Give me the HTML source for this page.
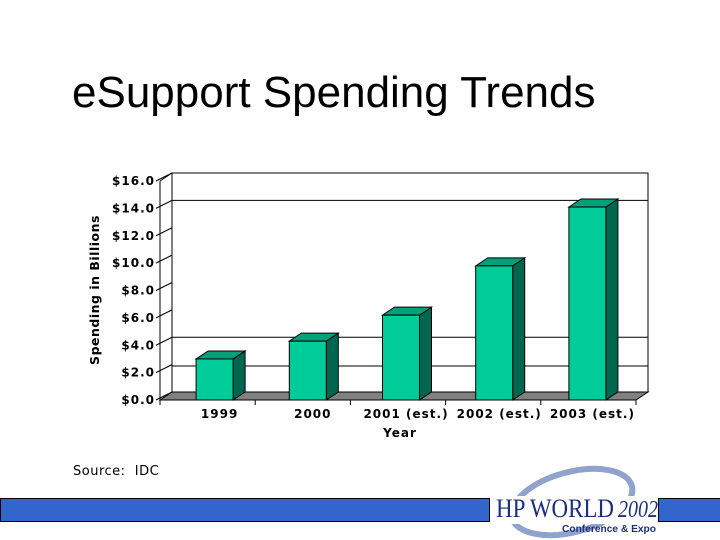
<!DOCTYPE html>
<html><head><meta charset="utf-8"><style>
body{margin:0;background:#fff;}
#wrap{position:relative;width:720px;height:540px;overflow:hidden;background:#fff;font-family:"Liberation Sans",sans-serif;}
</style></head><body>
<div id="wrap">
<div style="position:absolute;left:72px;top:68px;font-size:44px;color:#000;">eSupport Spending Trends</div>
<svg id="chart" width="720" height="460" style="position:absolute;left:0;top:0;"></svg>
<div style="position:absolute;left:73px;top:464px;font-size:13px;letter-spacing:0.5px;font-family:'DejaVu Sans',sans-serif;">Source:&nbsp; IDC</div>
<div style="position:absolute;left:0;top:498px;width:490px;height:24px;background:#3366cc;border:1px solid #000;box-sizing:border-box;"></div>
<div style="position:absolute;left:658px;top:498px;width:62px;height:24px;background:#3366cc;border:1px solid #000;border-right:none;box-sizing:border-box;"></div>
<svg width="180" height="80" style="position:absolute;left:490px;top:460px;">
<ellipse cx="82" cy="42" rx="62" ry="30" fill="none" stroke="#8fa3cc" stroke-width="6" transform="rotate(-15 82 42)"/>
<rect x="4" y="36" width="164" height="28" fill="#fff"/>
<text x="6" y="57" font-family="Liberation Serif,serif" font-size="26" fill="#1c2f7a" textLength="118" lengthAdjust="spacingAndGlyphs">HP WORLD</text>
<text x="128" y="57" font-family="Liberation Serif,serif" font-size="24" fill="#1c2f7a" font-style="italic" textLength="40" lengthAdjust="spacingAndGlyphs">2002</text>
<text x="72" y="72" font-family="Liberation Sans,sans-serif" font-size="10" fill="#1c2f7a" font-weight="bold" textLength="94" lengthAdjust="spacingAndGlyphs">Conference &amp; Expo</text>
</svg>
</div>
<script>
const categories=["1999","2000","2001 (est.)","2002 (est.)","2003 (est.)"];
const values=[3.0,4.3,6.2,9.8,14.1];
const tickValues=[0,2,4,6,8,10,12,14,16];
const tickLabels=["$0.0","$2.0","$4.0","$6.0","$8.0","$10.0","$12.0","$14.0","$16.0"];
const gridValues=[14,4,1.9];
const svg=document.getElementById('chart');
const NS="http://www.w3.org/2000/svg";
const x0=160,x1=636,y0=400,yMax=16,plotH=219,dx=12,dy=8;
const bx0=168,bx1=634;
function yS(v){return y0-v/yMax*plotH;}
const band=(x1-x0)/categories.length;
const bband=(bx1-bx0)/categories.length;
function xS(i){return bx0+bband*i+bband/2;}
function mk(tag,attrs,name){const e=document.createElementNS(NS,tag);for(const k in attrs)e.setAttribute(k,attrs[k]);


svg.appendChild(e);return e;}
mk('rect',{x:x0+dx,y:yS(16)-dy,width:x1-x0,height:plotH,fill:'#fff',stroke:'#000','stroke-width':1},'back-wall');
gridValues.forEach(v=>mk('line',{x1:x0+dx,x2:x1+dx,y1:yS(v)-dy,y2:yS(v)-dy,stroke:'#000'},'gridline'));
mk('polygon',{points:`${x0},${y0} ${x0+dx},${y0-dy} ${x1+dx},${y0-dy} ${x1},${y0}`,fill:'#808080',stroke:'#000'},'floor');
mk('line',{x1:x0,y1:y0,x2:x0,y2:yS(16),stroke:'#000'},'y-axis-line');
mk('line',{x1:x0,y1:yS(16),x2:x0+dx,y2:yS(16)-dy,stroke:'#000'},'y-axis-top');
mk('line',{x1:x0,y1:y0,x2:x1,y2:y0,stroke:'#000'},'x-axis-line');
tickValues.forEach((v,i)=>{
 mk('line',{x1:x0-4,y1:yS(v),x2:x0+dx,y2:yS(v)-dy,stroke:'#000'},'y-tick');
 const t=mk('text',{x:x0-5,y:yS(v)+4,'text-anchor':'end','font-size':12,'font-weight':'bold','font-family':'DejaVu Sans,sans-serif','letter-spacing':'1'},'y-tick-label');t.textContent=tickLabels[i];
});
for(let i=0;i<=categories.length;i++)mk('line',{x1:x0+band*i,y1:y0,x2:x0+band*i,y2:y0+5,stroke:'#000'},'x-tick');
const bw=37;
values.forEach((v,i)=>{
 const cx=xS(i),l=cx-bw/2,r=cx+bw/2,t=yS(v);
 mk('polygon',{points:`${r},${y0} ${r+dx},${y0-dy} ${r+dx},${t-dy} ${r},${t}`,fill:'#006650',stroke:'#000'},'bar-side');
 mk('polygon',{points:`${l},${t} ${l+dx},${t-dy} ${r+dx},${t-dy} ${r},${t}`,fill:'#00a07a',stroke:'#000'},'bar-top');
 mk('rect',{x:l,y:t,width:bw,height:y0-t,fill:'#00cc99',stroke:'#000'},'bar-'+categories[i].slice(0,4));
 const tx=mk('text',{x:cx+5,y:418,'text-anchor':'middle','font-size':12,'font-weight':'bold','font-family':'DejaVu Sans,sans-serif','letter-spacing':'1'},'x-tick-label');tx.textContent=categories[i];
});
const xt=mk('text',{x:400,y:437,'text-anchor':'middle','font-size':12,'font-weight':'bold','font-family':'DejaVu Sans,sans-serif','letter-spacing':'1'},'x-axis-title');xt.textContent='Year';
const yt=mk('text',{x:0,y:0,'text-anchor':'middle','font-size':12.5,'font-weight':'bold','font-family':'DejaVu Sans,sans-serif','letter-spacing':'0.5',transform:'translate(99,290) rotate(-90)'},'y-axis-title');yt.textContent='Spending in Billions';
</script>
</body></html>
